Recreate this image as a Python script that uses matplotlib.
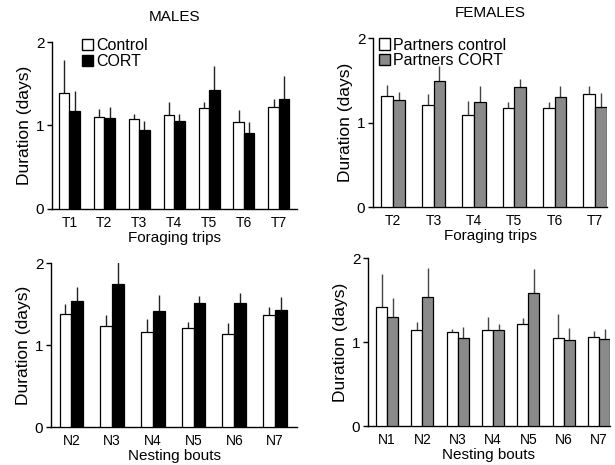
import matplotlib
matplotlib.use("Agg")
import matplotlib.pyplot as plt
import numpy as np
from matplotlib.patches import Patch

plt.rcParams['font.family'] = ['Liberation Sans', 'DejaVu Sans']

# Males foraging trips
male_trips = ["T1", "T2", "T3", "T4", "T5", "T6", "T7"]
male_trip_ctrl = [1.386, 1.096, 1.076, 1.13, 1.21, 1.044, 1.227]
male_trip_ctrl_err = [0.404, 0.104, 0.059, 0.15, 0.07, 0.136, 0.093]
male_trip_cort = [1.17, 1.084, 0.944, 1.05, 1.426, 0.916, 1.319]
male_trip_cort_err = [0.24, 0.136, 0.112, 0.09, 0.284, 0.124, 0.271]

# Females foraging trips
fem_trips = ["T2", "T3", "T4", "T5", "T6", "T7"]
fem_trip_ctrl = [1.318, 1.203, 1.093, 1.172, 1.172, 1.333]
fem_trip_ctrl_err = [0.13, 0.138, 0.157, 0.067, 0.075, 0.103]
fem_trip_cort = [1.262, 1.491, 1.239, 1.42, 1.298, 1.183]
fem_trip_cort_err = [0.098, 0.174, 0.197, 0.099, 0.138, 0.166]

# Males nesting bouts
male_bouts = ["N2", "N3", "N4", "N5", "N6", "N7"]
male_bout_ctrl = [1.378, 1.236, 1.159, 1.211, 1.134, 1.362]
male_bout_ctrl_err = [0.122, 0.126, 0.154, 0.065, 0.13, 0.097]
male_bout_cort = [1.533, 1.748, 1.415, 1.508, 1.508, 1.431]
male_bout_cort_err = [0.174, 0.282, 0.191, 0.094, 0.126, 0.158]

# Females nesting bouts
fem_bouts = ["N1", "N2", "N3", "N4", "N5", "N6", "N7"]
fem_bout_ctrl = [1.414, 1.139, 1.116, 1.147, 1.219, 1.044, 1.06]
fem_bout_ctrl_err = [0.399, 0.096, 0.039, 0.152, 0.068, 0.295, 0.071]
fem_bout_cort = [1.299, 1.53, 1.044, 1.139, 1.582, 1.02, 1.04]
fem_bout_cort_err = [0.223, 0.35, 0.139, 0.08, 0.283, 0.143, 0.111]

W, H = 615, 465
fig = plt.figure(figsize=(W / 100, H / 100), dpi=100)

def px_axes(l, r, t, b):
    return fig.add_axes([l / W, 1 - b / H, (r - l) / W, (b - t) / H])

def panel(ax, cats, ctrl, ctrl_err, cort, cort_err, cort_color, err_color, width, xlim, xlabel):
    x = np.arange(len(cats))
    ax.bar(x - width / 2, ctrl, width, color="white", edgecolor="black", linewidth=0.9, zorder=3)
    ax.bar(x + width / 2, cort, width, color=cort_color, edgecolor="black", linewidth=0.9, zorder=3)
    ax.errorbar(x - width / 2, ctrl, yerr=[np.zeros(len(cats)), ctrl_err], fmt="none",
                ecolor=err_color, elinewidth=1.0, capsize=0, zorder=2)
    ax.errorbar(x + width / 2, cort, yerr=[np.zeros(len(cats)), cort_err], fmt="none",
                ecolor=err_color, elinewidth=1.0, capsize=0, zorder=2)
    ax.set_xlim(*xlim)
    ax.set_ylim(0, 2)
    ax.set_yticks([0, 1, 2])
    ax.set_yticklabels(["0", "1", "2"], fontsize=11)
    ax.set_xticks(x)
    ax.set_xticklabels(cats, fontsize=10)
    ax.tick_params(axis="x", length=0, pad=5)
    ax.tick_params(axis="y", length=3.5, width=1, direction="out", pad=2)
    for s in ["top", "right"]:
        ax.spines[s].set_visible(False)
    for s in ["left", "bottom"]:
        ax.spines[s].set_linewidth(1.0)
    ax.set_ylabel("Duration (days)", fontsize=12.5, labelpad=3)
    ax.set_xlabel(xlabel, fontsize=11, labelpad=1)

ax1 = px_axes(52, 297, 42, 209)
panel(ax1, male_trips, male_trip_ctrl, male_trip_ctrl_err, male_trip_cort, male_trip_cort_err,
      "black", "#222222", 0.30, (-0.5, 6.52), "Foraging trips")
ax1.set_title("MALES", fontsize=11, pad=15)
ax1.legend(handles=[Patch(facecolor="white", edgecolor="black", label="Control"),
                    Patch(facecolor="black", edgecolor="black", label="CORT")],
           loc="upper left", bbox_to_anchor=(0.09, 1.07), frameon=False, fontsize=11.5,
           handlelength=0.7, handleheight=0.7, handletextpad=0.2, labelspacing=0.05, borderpad=0)

ax2 = px_axes(373, 607, 38, 207)
panel(ax2, fem_trips, fem_trip_ctrl, fem_trip_ctrl_err, fem_trip_cort, fem_trip_cort_err,
      "#8a8a8a", "#444444", 0.29, (-0.5, 5.3), "Foraging trips")
ax2.set_title("FEMALES", fontsize=11, pad=15)
ax2.legend(handles=[Patch(facecolor="white", edgecolor="black", label="Partners control"),
                    Patch(facecolor="#8a8a8a", edgecolor="black", label="Partners CORT")],
           loc="upper left", bbox_to_anchor=(-0.01, 1.05), frameon=False, fontsize=11.5,
           handlelength=0.7, handleheight=0.7, handletextpad=0.2, labelspacing=0.05, borderpad=0)

ax3 = px_axes(51, 297, 263, 427)
panel(ax3, male_bouts, male_bout_ctrl, male_bout_ctrl_err, male_bout_cort, male_bout_cort_err,
      "black", "#222222", 0.29, (-0.5, 5.54), "Nesting bouts")

ax4 = px_axes(368, 610, 258, 426)
panel(ax4, fem_bouts, fem_bout_ctrl, fem_bout_ctrl_err, fem_bout_cort, fem_bout_cort_err,
      "#8a8a8a", "#444444", 0.31, (-0.54, 6.31), "Nesting bouts")

fig.savefig("out.png", dpi=100)
